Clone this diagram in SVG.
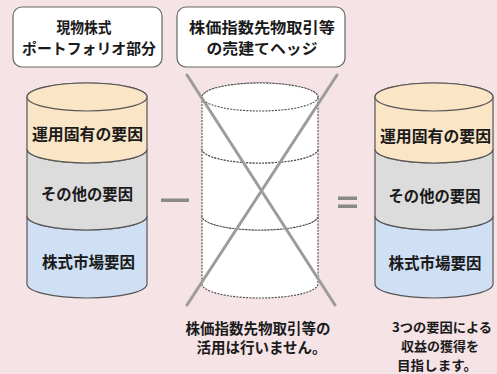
<svg xmlns="http://www.w3.org/2000/svg" width="497" height="374" viewBox="0 0 497 374">
<style>
text{font-family:"Noto Sans CJK JP","Noto Sans CJK SC",sans-serif;font-weight:bold;fill:#1a1a1a}
.box{fill:#fff;stroke:#666;stroke-width:1.2}
.seg{stroke:#555;stroke-width:1.2}
.beige{fill:#fae5c6}
.gray{fill:#dcdcdc}
.blue{fill:#cfe0f4}
.white{fill:#fff;stroke:#4a4a4a;stroke-width:1.1;stroke-dasharray:2 1.2}
.lbl{font-size:16px;text-anchor:middle}
.hd{font-size:15px;text-anchor:middle}
.note{font-size:14.5px}
.note2{font-size:13px}
.cross{stroke:#9c9c9c;stroke-width:3;stroke-linecap:round}
.op{fill:#8a8a8a}
</style>
<rect width="497" height="374" fill="#f5e3e6"/>

<g id="box-spot">
<rect class="box" x="13" y="7" width="149" height="60" rx="9"/>
<text class="hd" x="84" y="33" textLength="55" lengthAdjust="spacingAndGlyphs">現物株式</text>
<text class="hd" x="89" y="54" textLength="134" lengthAdjust="spacingAndGlyphs">ポートフォリオ部分</text>
</g>

<g id="box-hedge">
<rect class="box" x="177" y="7" width="168" height="60" rx="9"/>
<text class="hd" x="262" y="33" textLength="146" lengthAdjust="spacingAndGlyphs">株価指数先物取引等</text>
<text class="hd" x="262" y="54" textLength="111" lengthAdjust="spacingAndGlyphs">の売建てヘッジ</text>
</g>

<g id="cyl-left">
<path class="seg blue" d="M27,216 A60,14 0 0 0 147,216 L147,284 A60,14 0 0 1 27,284 Z"/>
<path class="seg gray" d="M27,149 A60,14 0 0 0 147,149 L147,216 A60,14 0 0 1 27,216 Z"/>
<path class="seg beige" d="M27,97 A60,14 0 0 1 147,97 L147,149 A60,14 0 0 1 27,149 Z"/>
<ellipse class="seg beige" cx="87" cy="97" rx="60" ry="14"/>
<text class="lbl" x="87.5" y="140" textLength="111" lengthAdjust="spacingAndGlyphs">運用固有の要因</text>
<text class="lbl" x="87" y="200" textLength="92" lengthAdjust="spacingAndGlyphs">その他の要因</text>
<text class="lbl" x="88.5" y="268" textLength="93" lengthAdjust="spacingAndGlyphs">株式市場要因</text>
</g>

<g id="minus">
<rect class="op" x="161" y="198.5" width="28" height="3.5"/>
</g>

<g id="cyl-middle">
<path class="white" d="M202,216 A58,14 0 0 0 318,216 L318,284 A58,14 0 0 1 202,284 Z"/>
<path class="white" d="M202,149 A58,14 0 0 0 318,149 L318,216 A58,14 0 0 1 202,216 Z"/>
<path class="white" d="M202,97 A58,14 0 0 1 318,97 L318,149 A58,14 0 0 1 202,149 Z"/>
<ellipse class="white" cx="260" cy="97" rx="58" ry="14"/>
</g>

<g id="connectors">
<line class="cross" x1="187" y1="75" x2="335" y2="305"/>
<line class="cross" x1="337" y1="75" x2="187" y2="305"/>
</g>

<g id="equals">
<rect class="op" x="338" y="196.5" width="19" height="3.5"/>
<rect class="op" x="338" y="204.5" width="19" height="3.5"/>
</g>

<g id="cyl-right">
<path class="seg blue" d="M375,216 A59,14 0 0 0 493,216 L493,284 A59,14 0 0 1 375,284 Z"/>
<path class="seg gray" d="M375,149 A59,14 0 0 0 493,149 L493,216 A59,14 0 0 1 375,216 Z"/>
<path class="seg beige" d="M375,97 A59,14 0 0 1 493,97 L493,149 A59,14 0 0 1 375,149 Z"/>
<ellipse class="seg beige" cx="434" cy="97" rx="59" ry="14"/>
<text class="lbl" x="435.5" y="142" textLength="111" lengthAdjust="spacingAndGlyphs">運用固有の要因</text>
<text class="lbl" x="434.5" y="202" textLength="92" lengthAdjust="spacingAndGlyphs">その他の要因</text>
<text class="lbl" x="435" y="269" textLength="93" lengthAdjust="spacingAndGlyphs">株式市場要因</text>
</g>

<g id="note-left">
<text class="note" x="185.5" y="334">株価指数先物取引等の</text>
<text class="note" x="196.5" y="353">活用は行いません。</text>
</g>

<g id="note-right">
<text class="note2" x="392" y="332" textLength="100" lengthAdjust="spacingAndGlyphs">3つの要因による</text>
<text class="note2" x="401" y="351" textLength="78" lengthAdjust="spacingAndGlyphs">収益の獲得を</text>
<text class="note2" x="397" y="370" textLength="80" lengthAdjust="spacingAndGlyphs">目指します。</text>
</g>
</svg>
